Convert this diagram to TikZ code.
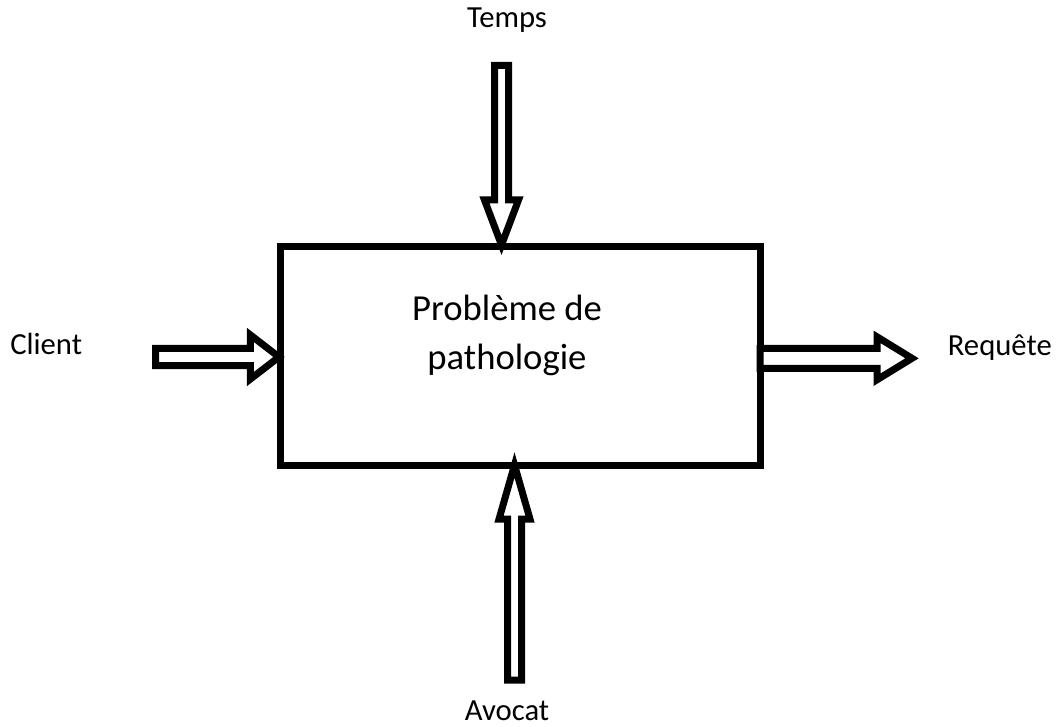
\documentclass[tikz,border=0pt]{standalone}
\usepackage{fontspec}
\setmainfont{Carlito}
\usetikzlibrary{calc}
% fat hollow arrow: tail, tip, shaft half width, head half width, head length
\newcommand{\fatarrow}[5]{
  \path (#1) coordinate (fa-s) (#2) coordinate (fa-t)
    ($(#2)!#5!(#1)$) coordinate (fa-b);
  \draw[fatline] ($(fa-s)!#3!90:(fa-t)$) -- ($(fa-b)!#3!90:(fa-t)$)
    -- ($(fa-b)!#4!90:(fa-t)$) -- (fa-t)
    -- ($(fa-b)!#4!-90:(fa-t)$) -- ($(fa-b)!#3!-90:(fa-t)$)
    -- ($(fa-s)!#3!-90:(fa-t)$) -- cycle;
}
\tikzset{
  fatline/.style = {line width=5.25pt, line join=miter, fill=white},
  lbl/.style     = {font=\fontsize{23}{28}\selectfont, inner sep=0pt},
  boxnode/.style = {draw, line width=5.25pt, inner sep=0pt, outer sep=0pt,
                    minimum width=360pt, minimum height=163.5pt}
}

\begin{document}
\begin{tikzpicture}[x=0.75pt, y=-0.75pt]
  \useasboundingbox (0,0) rectangle (1063,727);
  % the problem box
  \node[boxnode] (prob) at (520,356) {};
  \node[align=center, inner sep=0pt,
        font=\fontsize{27.5}{36.75}\selectfont] (probtxt) at (507,335)
        {Problème de\\pathologie};
  % labels
  \node[lbl, anchor=base] (temps) at (507,28) {Temps};
  \node[lbl, anchor=base west] (client) at (10,354) {Client};
  \node[lbl, anchor=base east] (requete) at (1052,355) {Requête};
  \node[lbl, anchor=base] (avocat) at (507,720) {Avocat};
  % arrow ends
  \coordinate (tempsT) at (501.5,65.5);
  \coordinate (tempsH) at (501.5,245);
  \coordinate (clientT) at (155.5,357);
  \coordinate (clientH) at (279,357);
  \coordinate (reqT) at (760,358.3);
  \coordinate (reqH) at (912,358.3);
  \coordinate (avoT) at (514.5,680);
  \coordinate (avoH) at (514.5,465);
  % arrows
  \fatarrow{tempsT}{tempsH}{5.25pt}{12.75pt}{33.75pt}
  \fatarrow{clientT}{clientH}{6.4pt}{16.5pt}{21.4pt}
  \fatarrow{reqT}{reqH}{7.5pt}{16.1pt}{26.25pt}
  \fatarrow{avoT}{avoH}{5.25pt}{11.6pt}{40.5pt}
\end{tikzpicture}
\end{document}
